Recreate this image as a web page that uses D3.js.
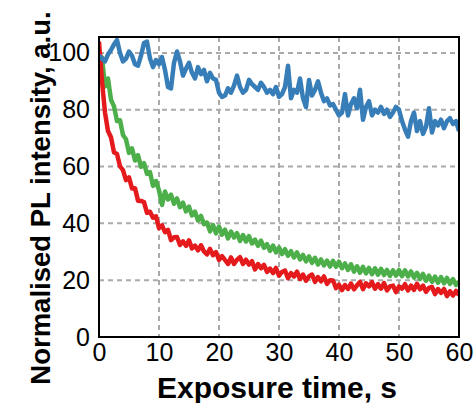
<!DOCTYPE html>
<html>
<head>
<meta charset="utf-8">
<script src="https://cdn.jsdelivr.net/npm/d3@7"></script>
<style>
  body { margin: 0; background: #fff; }
  svg { display: block; font-family: "Liberation Sans", Arial, sans-serif; }
</style>
</head>
<body>
<svg id="chart" width="475" height="403"></svg>
<script>
// time axis, s (0 .. 60 in 0.5 s steps)
const times = d3.range(0, 60.01, 0.5);

const blue = [
  99, 98, 97, 99.5, 101, 103, 104.5, 100, 97, 98,
  100.5, 99, 96, 95.5, 99, 103.5, 104, 98, 95, 97.5,
  96, 98.5, 94, 88, 87.5, 96.5, 100.5, 97, 92, 94.5,
  96.5, 93, 91, 95, 92.5, 94, 90, 93, 91, 90.5,
  86, 84.5, 85, 87.5, 86, 88.5, 92, 88, 86, 87,
  90.5, 89, 88, 87, 89.5, 88, 86, 87, 85.5, 88,
  84.5, 85.5, 88, 95.5, 84, 87, 86, 91, 84, 81,
  90.5, 85, 87, 90, 86, 83, 84, 81.5, 82, 80,
  78, 79, 85.5, 78, 82, 84, 80.5, 87, 76.5, 81,
  83, 78, 80, 79, 81, 78.5, 80, 77.5, 79, 81,
  80, 76, 73, 70.5, 76, 79, 72.5, 76, 71.5, 74,
  80.5, 72, 76, 74.5, 76.5, 73.5, 76, 77, 75, 76,
  72.5
];

const green = [
  97.5, 98.4, 88.2, 91.0, 83.5, 81.2, 76.0, 76.3, 71.1, 69.6,
  64.8, 66.4, 62.1, 64.0, 59.9, 61.2, 57.4, 58.0, 53.2, 54.9,
  51.6, 46.5, 51.2, 48.4, 50.1, 46.9, 48.8, 45.7, 47.3, 44.2,
  45.9, 42.8, 44.1, 41.0, 42.6, 39.7, 40.3, 37.2, 39.4, 36.5,
  38.9, 36.0, 37.8, 34.7, 37.1, 35.0, 36.6, 33.8, 35.9, 33.6,
  35.5, 32.9, 34.3, 32.1, 33.9, 31.4, 32.7, 30.3, 32.2, 29.8,
  31.5, 29.2, 30.9, 28.6, 30.2, 28.0, 29.8, 27.3, 28.9, 26.6,
  28.4, 26.1, 27.9, 25.5, 27.3, 25.2, 26.9, 24.8, 26.8, 24.7,
  26.5, 24.2, 25.9, 23.6, 25.6, 23.0, 24.9, 22.6, 24.7, 22.4,
  24.3, 22.1, 24.2, 21.9, 24.0, 21.8, 23.6, 21.5, 23.5, 21.6,
  23.6, 21.4, 23.5, 21.3, 23.1, 20.9, 22.6, 20.4, 22.2, 19.8,
  21.6, 19.4, 21.3, 19.1, 21.1, 18.9, 20.8, 18.7, 20.4, 18.3,
  19.6
];

const red = [
  104, 90, 79, 72.5, 70.3, 65.0, 64.4, 60.1, 58.7, 55.2,
  56.2, 52.3, 52.4, 48.0, 47.9, 47.5, 43.7, 44.1, 42.0, 42.5,
  38.3, 39.3, 36.9, 37.7, 34.1, 35.1, 35.2, 32.4, 33.7, 32.1,
  34.0, 31.2, 32.2, 30.5, 32.3, 30.1, 29.1, 31.0, 28.8, 29.9,
  27.1, 28.5, 27.1, 25.7, 28.0, 25.7, 27.2, 28.1, 25.7, 27.2,
  25.5, 26.7, 23.8, 25.7, 24.2, 25.4, 22.9, 24.1, 22.5, 24.3,
  21.6, 22.9, 23.4, 20.7, 22.5, 21.3, 23.0, 20.4, 22.0, 19.8,
  21.3, 22.0, 19.4, 21.1, 19.6, 21.3, 18.7, 20.0, 19.9, 17.2,
  18.4, 16.5, 18.3, 16.9, 18.8, 16.8, 18.2, 19.4, 16.8, 18.9,
  17.8, 19.3, 17.0, 18.6, 17.0, 19.0, 16.4, 17.8, 18.1, 15.8,
  17.8, 17.0, 18.6, 16.4, 18.1, 16.6, 18.7, 16.8, 18.1, 15.9,
  17.3, 17.6, 15.1, 16.9, 15.5, 16.9, 14.4, 16.1, 14.6, 16.2,
  14.7
];

const xTicks = [0, 10, 20, 30, 40, 50, 60];
const yTicks = [0, 20, 40, 60, 80, 100];

const series = [
  { name: "green", values: green, color: "#4daf4a" },
  { name: "red", values: red, color: "#e41a1c" },
  { name: "blue", values: blue, color: "#377eb8" }
];

const margin = { top: 37, right: 16, bottom: 66, left: 99 };
const W = 475, H = 403;
const w = W - margin.left - margin.right;
const h = H - margin.top - margin.bottom;

const svg = d3.select("#chart");
const g = svg.append("g").attr("transform", `translate(${margin.left},${margin.top})`);

const x = d3.scaleLinear().domain([0, 60]).range([0, w]);
const y = d3.scaleLinear().domain([0, 105.6]).range([h, 0]);

// grid
g.append("g").selectAll("line").data(yTicks.filter(d => d > 0)).join("line")
    .attr("x1", 0).attr("x2", w).attr("y1", d => y(d)).attr("y2", d => y(d))
    .attr("stroke", "#aaa").attr("stroke-width", 2).attr("stroke-dasharray", "5 4");
g.append("g").selectAll("line").data(xTicks.filter(d => d > 0 && d < 60)).join("line")
    .attr("x1", d => x(d)).attr("x2", d => x(d)).attr("y1", 0).attr("y2", h)
    .attr("stroke", "#aaa").attr("stroke-width", 2).attr("stroke-dasharray", "5 4");

g.append("clipPath").attr("id", "clip")
  .append("rect").attr("width", w).attr("height", h);

const line = d3.line().x((d, i) => x(times[i])).y(d => y(d));

g.append("g").attr("clip-path", "url(#clip)")
  .selectAll("path").data(series).join("path")
    .attr("d", d => line(d.values))
    .attr("fill", "none")
    .attr("stroke", d => d.color)
    .attr("stroke-width", 4.5)
    .attr("stroke-linejoin", "round");

// frame
g.append("rect").attr("width", w).attr("height", h)
    .attr("fill", "none").attr("stroke", "#000").attr("stroke-width", 2);

// tick labels
const xAxis = d3.axisBottom(x).tickValues(xTicks).tickSize(0).tickPadding(6);
const yAxis = d3.axisLeft(y).tickValues(yTicks).tickSize(0).tickPadding(9);

g.append("g").attr("transform", `translate(0,${h})`).call(xAxis)
    .call(a => a.select(".domain").remove())
    .selectAll("text").attr("font-size", 25).attr("fill", "#000")
    .attr("font-family", "Liberation Sans, Arial, sans-serif");
g.append("g").call(yAxis)
    .call(a => a.select(".domain").remove())
    .selectAll("text").attr("font-size", 25).attr("fill", "#000")
    .attr("font-family", "Liberation Sans, Arial, sans-serif");

// axis titles
svg.append("text")
    .attr("x", margin.left + w / 2 - 2).attr("y", 398)
    .attr("text-anchor", "middle")
    .attr("font-size", 30).attr("font-weight", "bold")
    .text("Exposure time, s");

svg.append("text")
    .attr("transform", `translate(50,198) rotate(-90)`)
    .attr("text-anchor", "middle")
    .attr("font-size", 27.5).attr("font-weight", "bold")
    .text("Normalised PL intensity, a.u.");
</script>
</body>
</html>
